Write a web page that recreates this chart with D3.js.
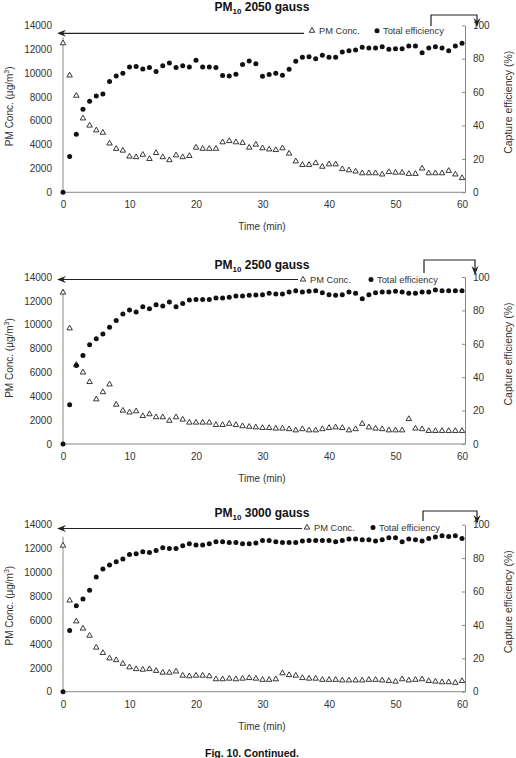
<!DOCTYPE html>
<html>
<head>
<meta charset="utf-8">
<script src="https://cdn.jsdelivr.net/npm/d3@7"></script>
<style>
body { margin: 0; background: #fff; }
text { font-family: "Liberation Sans", Arial, sans-serif; }
</style>
</head>
<body>
<script>
// time axis (min) and tick values
var minutes = [0,1,2,3,4,5,6,7,8,9,10,11,12,13,14,15,16,17,18,19,20,21,22,23,24,25,26,27,28,29,30,
  31,32,33,34,35,36,37,38,39,40,41,42,43,44,45,46,47,48,49,50,51,52,53,54,55,56,57,58,59,60];
var xTicks = [0,10,20,30,40,50,60];
var concTicks = [0,2000,4000,6000,8000,10000,12000,14000];
var effTicks = [0,20,40,60,80,100];
var gaussLabels = ["2050 gauss","2500 gauss","3000 gauss"];

// PM conc. (ug/m3)
var conc2050 = [12500,9800,8100,6200,5600,5200,5000,4100,3650,3500,3000,2950,3150,2800,3300,2950,2700,3100,2950,3050,
  3750,3650,3650,3650,4200,4300,4200,4150,3750,4000,3700,3600,3550,3700,3250,2600,2300,2300,2450,2150,
  2350,2350,1950,1850,1750,1600,1600,1600,1500,1700,1650,1650,1550,1550,2000,1600,1600,1600,1800,1500,1200];
var conc2500 = [12700,9700,6650,6000,5200,3750,4350,5000,3300,2800,2650,2750,2350,2500,2250,2250,1950,2250,2050,1800,
  1800,1800,1800,1600,1600,1700,1600,1500,1450,1400,1350,1350,1300,1300,1250,1150,1250,1150,1150,1250,
  1350,1400,1350,1150,1250,1700,1400,1300,1250,1150,1150,1150,2100,1300,1250,1100,1100,1100,1100,1100,1100];
var conc3000 = [12250,7650,5900,5300,4700,3700,3250,2800,2650,2350,2050,1900,1850,1900,1750,1600,1600,1700,1350,1300,
  1350,1350,1300,1050,1050,1100,1050,1100,1150,1100,1000,1000,1050,1550,1400,1350,1150,1100,1100,1000,
  1000,1000,950,950,950,950,1000,1000,950,900,850,1050,950,1000,1050,900,850,800,800,750,900];

// total capture efficiency (%)
var eff2050 = [0,21.4,34.7,49.7,54.5,57.7,58.9,66.3,69.7,71.3,75,75.4,73.9,74.7,72.3,75.8,77.4,74.7,75.8,75,
  79,75,75,74.7,70,69.7,70.7,76.6,78.6,77,69.5,70.5,71.3,70.1,73.7,78.4,80.8,81.2,80,82,
  80.8,80.8,84,84.8,85.2,86.8,86.4,86.4,87.2,85.6,86,86,87.6,87.6,83.6,86.4,87.2,86.4,84.8,87.6,89.2];
var eff2500 = [0,23.5,47,53,59.5,63,65.9,69.9,73.9,77.8,80.2,79,82.2,81,83.4,82.6,85,82.2,84.2,86.2,
  86.6,86.6,86.6,87.4,87.4,87.8,88.6,88.6,89,89.2,89.4,90.2,89.8,89.8,91,91.8,91,91.4,91.8,90.6,
  89.4,89,89.4,91,90.2,87,89.4,90.6,91,91,91.4,91,90.2,90.2,91,91,92.2,91.8,91.8,91.8,91.8];
var eff3000 = [0,36.7,51.5,55.5,60.7,68.7,73.5,75.8,77.8,79.4,82.2,82.6,83.8,83.4,84.6,86.2,85.8,85.8,87.4,88.6,
  87.8,87.8,88.6,89.8,89.8,89.4,89.4,88.6,88.6,89,90.6,90.6,89.8,89.4,89.4,89.4,90.2,90.6,90.6,90.6,
  90.6,89.8,90.6,91.4,91.4,91,91,90.2,91,92.2,92.2,89.8,91.4,91,90.2,91.8,92.6,93.4,93,93.4,91.8];

var W = 516, H = 758;
var left = 63, right = 462, frameRight = 465, ph = 167;

var svg = d3.select("body").append("svg")
  .attr("width", W)
  .attr("height", H);

var x = d3.scaleLinear().domain([0, 60]).range([left, right]);

// layout per panel (positions picked from the figure)
var panels = [
  {label: gaussLabels[0], conc: conc2050, eff: eff2050, top: 25.3, titleY: 10.5,
   legTri: 312, legDot: 377, legY: 30.7, arrowEnd: 304, arrowY: 33.3, bx1: 431, bx2: 477, bTop: 15, bBot: 26, bTip: 26},
  {label: gaussLabels[1], conc: conc2500, eff: eff2500, top: 277, titleY: 268.5,
   legTri: 303, legDot: 371, legY: 279.5, arrowEnd: 298, arrowY: 279.5, bx1: 424, bx2: 475, bTop: 260, bBot: 273, bTip: 274},
  {label: gaussLabels[2], conc: conc3000, eff: eff3000, top: 524.7, titleY: 516.5,
   legTri: 307, legDot: 373, legY: 527.5, arrowEnd: 302, arrowY: 528.5, bx1: 423, bx2: 477, bTop: 511, bBot: 521, bTip: 523}
];

var tri = d3.symbol().type(d3.symbolTriangle).size(13);

panels.forEach(function(p) {
  var bottom = p.top + ph;
  var yC = d3.scaleLinear().domain([0, 14000]).range([bottom, p.top]);
  var yE = d3.scaleLinear().domain([0, 100]).range([bottom, p.top]);
  var g = svg.append("g");

  // title with subscript
  var t = g.append("text")
    .attr("x", 262).attr("y", p.titleY)
    .attr("text-anchor", "middle")
    .attr("font-size", 12).attr("font-weight", "bold").attr("fill", "#111");
  t.append("tspan").text("PM");
  t.append("tspan").attr("font-size", 8).attr("dy", 3).text("10");
  t.append("tspan").attr("dy", -3).text(" " + p.label);

  // left axis (no ticks)
  var ax = g.append("g").attr("transform", "translate(" + left + ",0)")
    .call(d3.axisLeft(yC).tickValues(concTicks).tickSize(0).tickPadding(11).tickFormat(d3.format("d")));
  ax.select(".domain").remove();
  ax.selectAll("text").attr("font-size", 10).attr("fill", "#333").attr("font-family", "Liberation Sans, Arial, sans-serif");
  g.append("line").attr("x1", left).attr("x2", left).attr("y1", p.top + 12).attr("y2", bottom)
    .attr("stroke", "#888").attr("stroke-width", 1);

  // right axis, ticks point inward
  var ar = g.append("g").attr("transform", "translate(" + frameRight + ",0)")
    .call(d3.axisRight(yE).tickValues(effTicks).tickSizeInner(-3).tickSizeOuter(0).tickPadding(8));
  ar.select(".domain").attr("stroke", "#888");
  ar.selectAll(".tick line").attr("stroke", "#888");
  ar.selectAll("text").attr("font-size", 10).attr("fill", "#333").attr("font-family", "Liberation Sans, Arial, sans-serif");

  // bottom axis
  var ab = g.append("g").attr("transform", "translate(0," + bottom + ")")
    .call(d3.axisBottom(x).tickValues(xTicks).tickSize(0).tickPadding(9));
  ab.select(".domain").remove();
  ab.selectAll("text").attr("font-size", 10).attr("fill", "#333").attr("font-family", "Liberation Sans, Arial, sans-serif");
  g.append("line").attr("x1", left).attr("x2", frameRight).attr("y1", bottom).attr("y2", bottom)
    .attr("stroke", "#888").attr("stroke-width", 1);

  // axis titles
  g.append("text").attr("x", 262).attr("y", bottom + 38).attr("text-anchor", "middle")
    .attr("font-size", 10).attr("fill", "#333").text("Time (min)");
  var lt = g.append("text")
    .attr("transform", "translate(13," + (p.top + 81) + ") rotate(-90)")
    .attr("text-anchor", "middle").attr("font-size", 10).attr("fill", "#333");
  lt.append("tspan").text("PM Conc. (\u03bcg/m");
  lt.append("tspan").attr("font-size", 7).attr("dy", -4).text("3");
  lt.append("tspan").attr("dy", 4).text(")");
  g.append("text")
    .attr("transform", "translate(512," + (p.top + 77) + ") rotate(-90)")
    .attr("text-anchor", "middle").attr("font-size", 10.5).attr("fill", "#333")
    .text("Capture efficiency (%)");

  // data marks
  g.selectAll("path.conc")
    .data(p.conc)
    .enter()
    .append("path")
    .attr("class", "conc")
    .attr("d", tri)
    .attr("transform", function(d, i) { return "translate(" + x(minutes[i]) + "," + yC(d) + ")"; })
    .attr("fill", "#fff").attr("stroke", "#222").attr("stroke-width", 0.9);

  g.selectAll("circle.eff")
    .data(p.eff)
    .enter()
    .append("circle")
    .attr("class", "eff")
    .attr("cx", function(d, i) { return x(minutes[i]); })
    .attr("cy", function(d) { return yE(d); })
    .attr("r", 2.5)
    .attr("fill", "#111");

  // legend
  g.append("path").attr("d", tri).attr("transform", "translate(" + p.legTri + "," + p.legY + ")")
    .attr("fill", "#fff").attr("stroke", "#222").attr("stroke-width", 0.9);
  g.append("text").attr("x", p.legTri + 7).attr("y", p.legY + 3.3).attr("font-size", 9.3).attr("fill", "#333").text("PM Conc.");
  g.append("circle").attr("cx", p.legDot).attr("cy", p.legY).attr("r", 2.5).attr("fill", "#111");
  g.append("text").attr("x", p.legDot + 6).attr("y", p.legY + 3.3).attr("font-size", 9.3).attr("fill", "#333").text("Total efficiency");

  // arrow to left axis
  g.append("line").attr("x1", p.arrowEnd).attr("x2", 60).attr("y1", p.arrowY).attr("y2", p.arrowY)
    .attr("stroke", "#222").attr("stroke-width", 1.2);
  g.append("path")
    .attr("d", "M" + 57 + "," + p.arrowY + "L" + 66 + "," + (p.arrowY - 3.5) + "L" + 63 + "," + p.arrowY + "L" + 66 + "," + (p.arrowY + 3.5) + "Z")
    .attr("fill", "#222");

  // bracket arrow to right axis
  g.append("path")
    .attr("d", "M" + p.bx1 + "," + p.bBot + "V" + p.bTop + "H" + p.bx2 + "V" + (p.bTip - 4))
    .attr("fill", "none").attr("stroke", "#222").attr("stroke-width", 1.2);
  g.append("path")
    .attr("d", "M" + p.bx2 + "," + (p.bTip + 1) + "L" + (p.bx2 - 3.5) + "," + (p.bTip - 8) + "L" + p.bx2 + "," + (p.bTip - 5) + "L" + (p.bx2 + 3.5) + "," + (p.bTip - 8) + "Z")
    .attr("fill", "#222");
});

svg.append("text").attr("x", 252).attr("y", 757).attr("text-anchor", "middle")
  .attr("font-size", 10.5).attr("font-weight", "bold").attr("fill", "#111")
  .text("Fig. 10. Continued.");
</script>
</body>
</html>
